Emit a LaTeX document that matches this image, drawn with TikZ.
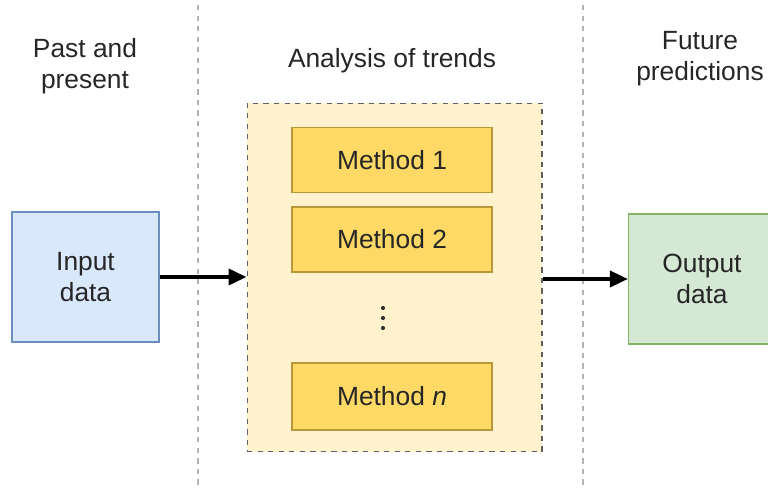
\documentclass[tikz,border=0pt]{standalone}
\usepackage{fontspec}
\setmainfont{Liberation Sans}
\usetikzlibrary{positioning,arrows.meta}

\definecolor{inblue}{HTML}{DAE8FC}
\definecolor{inblueline}{HTML}{6C8EBF}
\definecolor{outgreen}{HTML}{D5E8D4}
\definecolor{outgreenline}{HTML}{82B366}
\definecolor{groupfill}{HTML}{FFF2CC}
\definecolor{methodfill}{HTML}{FFD966}
\definecolor{methodline}{HTML}{B8983A}
\definecolor{inktext}{HTML}{262626}

\begin{document}
\begin{tikzpicture}[
  x=0.02cm, y=-0.02cm,
  every node/.style={font=\fontsize{15}{17.6}\selectfont, text=inktext},
  databox/.style={draw, line width=0.7pt, minimum width=2.94cm, minimum height=2.6cm,
                  align=center},
  method/.style={draw=methodline, fill=methodfill, line width=0.7pt,
                 minimum width=4cm, minimum height=1.3cm},
  phase/.style={align=center},
  arr/.style={-{Triangle[length=0.36cm, width=0.32cm]}, line width=2.2pt}
]
\clip (0,0) rectangle (768,490);
\useasboundingbox (0,0) rectangle (768,490);

% separators between the phases
\draw[gray!60, dashed, line width=0.6pt] (198,5) -- (198,490);
\draw[gray!60, dashed, line width=0.6pt] (583,5) -- (583,490);

% phase titles
\node[phase] (past) at (85,66) {Past and\\present};
\node[phase] (trends) at (392,61) {Analysis of trends};
\node[phase] (future) at (700,59) {Future\\predictions};

% data boxes
\node[databox, draw=inblueline, fill=inblue] (input) at (85.5,277) {Input\\data};
\node[databox, draw=outgreenline, fill=outgreen] (output) at (702,279) {Output\\data};

% group of methods
\node[draw=gray!75!black, dashed, fill=groupfill, line width=0.6pt,
      minimum width=5.9cm, minimum height=6.98cm] (group) at (394.5,277.5) {};
\node[method] (m1) at (392,160) {Method 1};
\node[method] (m2) at (392,239.5) {Method 2};
\node[method, minimum height=1.34cm] (mn) at (392,396.5) {Method \textit{n}};
\foreach \dy in {308,318,328}
  \fill[black!80] (383,\dy) circle (2.1);

\draw[arr] (input.east) -- (input.east -| group.west);
\draw[arr] (group.east |- output.west) -- (output.west);
\end{tikzpicture}
\end{document}
